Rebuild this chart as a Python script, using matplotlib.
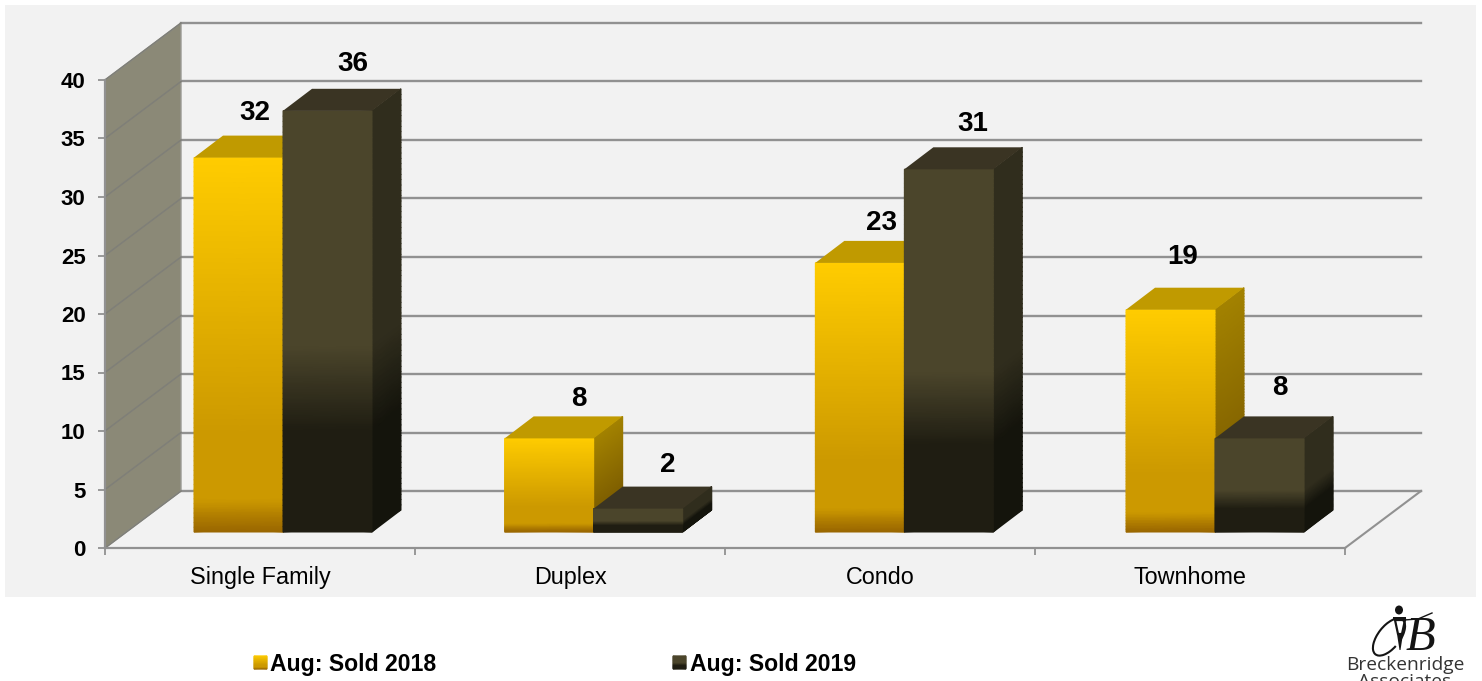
"""Aug sold units by property type: 3D-look clustered columns drawn in 2D."""
import matplotlib

matplotlib.use("Agg")  # headless backend
import matplotlib.pyplot as plt
import numpy as np
from matplotlib.colors import LinearSegmentedColormap
from matplotlib.patches import Arc, Ellipse, Polygon, Rectangle

categories = ["Single Family", "Duplex", "Condo", "Townhome"]
sold_2018 = [32, 8, 23, 19]
sold_2019 = [36, 2, 31, 8]
series_names = ["Aug: Sold 2018", "Aug: Sold 2019"]
y_ticks = [0, 5, 10, 15, 20, 25, 30, 35, 40]

# label positions were hand placed in the original, so nudge each one (pixels)
nudge_2018 = [(16, 45), (30, 39), (22, 40), (12, 53)]
nudge_2019 = [(25, 47), (30, 44), (24, 45), (20, 50)]

W, H = 1482, 681
GRID = "#919191"
FONT = ["Liberation Sans", "DejaVu Sans"]

# box geometry, in data units (1 category = 310 px, 1 value = 11.7 px)
WALL_DX, WALL_DY = 76 / 310, 57 / 11.7
BAR_W = 89 / 310
BAR_SHIFT_X, BAR_BASE = 23 / 310, 16 / 11.7
BAR_DX, BAR_DY = 29 / 310, 22 / 11.7
GROUP_STEP = 310.67 / 310

yellow_front = LinearSegmentedColormap.from_list(
    "y_front", [(0, "#ffcc00"), (0.74, "#cc9900"), (0.915, "#cc9900"), (1, "#996600")])
yellow_side = LinearSegmentedColormap.from_list(
    "y_side", [(0, "#a38200"), (0.74, "#806000"), (0.915, "#806000"), (1, "#604800")])
dark_front = LinearSegmentedColormap.from_list(
    "d_front", [(0, "#4b452b"), (0.56, "#4b452b"), (0.76, "#1f1d12"), (1, "#1f1d12")])
dark_side = LinearSegmentedColormap.from_list(
    "d_side", [(0, "#302d1d"), (0.56, "#302d1d"), (0.76, "#14140c"), (1, "#14140c")])

plt.rcParams["font.family"] = FONT
fig = plt.figure(figsize=(W / 100, H / 100), dpi=100, facecolor="white")

# --- Pixel-space layer: panel, legend and logo -----------------------------
bg = fig.add_axes([0, 0, 1, 1])
bg.set_xlim(0, W)
bg.set_ylim(H, 0)
bg.axis("off")
bg.add_patch(Rectangle((5, 5), 1471, 592, fc="#f2f2f2", ec="none"))


def swatch(x, cmap):
    t = np.linspace(0, 1, 20)[:, None].repeat(2, axis=1)
    xx = np.array([x, x + 13])[None, :].repeat(20, axis=0)
    yy = np.linspace(656, 669, 20)[:, None].repeat(2, axis=1)
    bg.pcolormesh(xx, yy, t, cmap=cmap, vmin=0, vmax=1, shading="gouraud")


swatch(254, yellow_front)
swatch(673, dark_front)
bg.text(270, 664, series_names[0], fontsize=16.6, fontweight="bold", va="center", color="black")
bg.text(690, 664, series_names[1], fontsize=16.6, fontweight="bold", va="center", color="black")

# logo: lantern + script B + name running off the bottom edge
INK = "#141414"
bg.add_patch(Ellipse((1399, 610), 8, 9, fc=INK, ec="none"))
bg.add_patch(Rectangle((1393, 617), 13, 3, fc=INK, ec="none"))
bg.add_patch(Polygon([(1395, 620), (1405, 620), (1402, 634), (1398, 634)], fc="white", ec=INK, lw=1.6))
bg.add_patch(Polygon([(1397, 634), (1403, 634), (1400.5, 650), (1399.5, 650)], fc=INK, ec="none"))
bg.add_patch(Arc((1389, 637), 22, 44, angle=38, theta1=15, theta2=345, ec=INK, lw=1.5))
bg.plot([1404, 1418, 1432], [620, 619, 613], color=INK, lw=1.0)
bg.text(1420, 638, "B", fontsize=35, family="Liberation Serif", style="italic",
        ha="center", va="center", color=INK)
bg.text(1405, 665, "Breckenridge", fontsize=13.8, family="Open Sans", ha="center", va="center", color="#333333")
bg.text(1405, 682, "Associates", fontsize=13.8, family="Open Sans", ha="center", va="center", color="#333333")

# --- Chart layer: front plane of the box is the real axes ------------------
ax = fig.add_axes([105 / W, 1 - 548 / H, 1240 / W, 468 / H])
ax.patch.set_alpha(0)
n = len(categories)

# side wall, back grid and floor edges
ax.add_patch(Polygon([(0, 0), (WALL_DX, WALL_DY), (WALL_DX, 40 + WALL_DY), (0, 40)],
                     fc="#8b8977", ec="#9a9a94", lw=1, clip_on=False, zorder=1))
for v in y_ticks:
    ax.plot([WALL_DX, n + WALL_DX], [v + WALL_DY] * 2, color=GRID, lw=1.7, clip_on=False, zorder=1)
    ax.plot([0, WALL_DX], [v, v + WALL_DY], color="#7f7f78", lw=1.1, clip_on=False, zorder=1.5)
ax.plot([n, n + WALL_DX], [0, WALL_DY], color=GRID, lw=1.5, clip_on=False, zorder=1)


def draw_bar(left, value, front_cmap, side_cmap, top_colour, z):
    t = np.linspace(0, 1, 80)
    rows = BAR_BASE + value * (1 - t)
    tt = np.column_stack([t, t])
    xf = np.column_stack([np.full_like(t, left), np.full_like(t, left + BAR_W)])
    yf = np.column_stack([rows, rows])
    xs = np.column_stack([np.full_like(t, left + BAR_W), np.full_like(t, left + BAR_W + BAR_DX)])
    ys = np.column_stack([rows, rows + BAR_DY])
    for xx, yy, cm in ((xs, ys, side_cmap), (xf, yf, front_cmap)):
        m = ax.pcolormesh(xx, yy, tt, cmap=cm, vmin=0, vmax=1, shading="gouraud", zorder=z)
        m.set_clip_on(False)
    top = BAR_BASE + value
    ax.add_patch(Polygon([(left, top), (left + BAR_W, top),
                          (left + BAR_W + BAR_DX, top + BAR_DY), (left + BAR_DX, top + BAR_DY)],
                         fc=top_colour, ec="none", clip_on=False, zorder=z))


def draw_label(left, value, nudge):
    ax.annotate(str(value), xy=(left + BAR_W / 2, BAR_BASE + value), xytext=nudge,
                textcoords="offset pixels", ha="center", va="center",
                fontsize=20, fontweight="bold", color="black",
                annotation_clip=False, zorder=10)


for i in range(n):
    centre = i * GROUP_STEP + 0.5 + BAR_SHIFT_X
    draw_bar(centre - BAR_W, sold_2018[i], yellow_front, yellow_side, "#c09a00", 3 + i)
    draw_bar(centre, sold_2019[i], dark_front, dark_side, "#3a3423", 3.5 + i)
    draw_label(centre - BAR_W, sold_2018[i], nudge_2018[i])
    draw_label(centre, sold_2019[i], nudge_2019[i])

ax.set_xlim(0, n)
ax.set_ylim(0, 40)
for side in ("top", "right"):
    ax.spines[side].set_visible(False)
for side in ("left", "bottom"):
    ax.spines[side].set_color(GRID)
    ax.spines[side].set_linewidth(1.6)
ax.set_yticks(y_ticks)
ax.set_yticklabels([str(v) for v in y_ticks], fontsize=16, fontweight="bold", color="black")
ax.set_xticks(range(n + 1))
ax.set_xticklabels([])
ax.set_xticks(np.arange(n) + 0.5, minor=True)
ax.set_xticklabels(categories, minor=True, fontsize=16.8, color="black")
ax.tick_params(axis="both", which="major", length=5, width=1.3, color=GRID)
ax.tick_params(axis="y", which="major", pad=9)
ax.tick_params(axis="x", which="minor", length=0, pad=13)

fig.savefig("out.png", dpi=100)
